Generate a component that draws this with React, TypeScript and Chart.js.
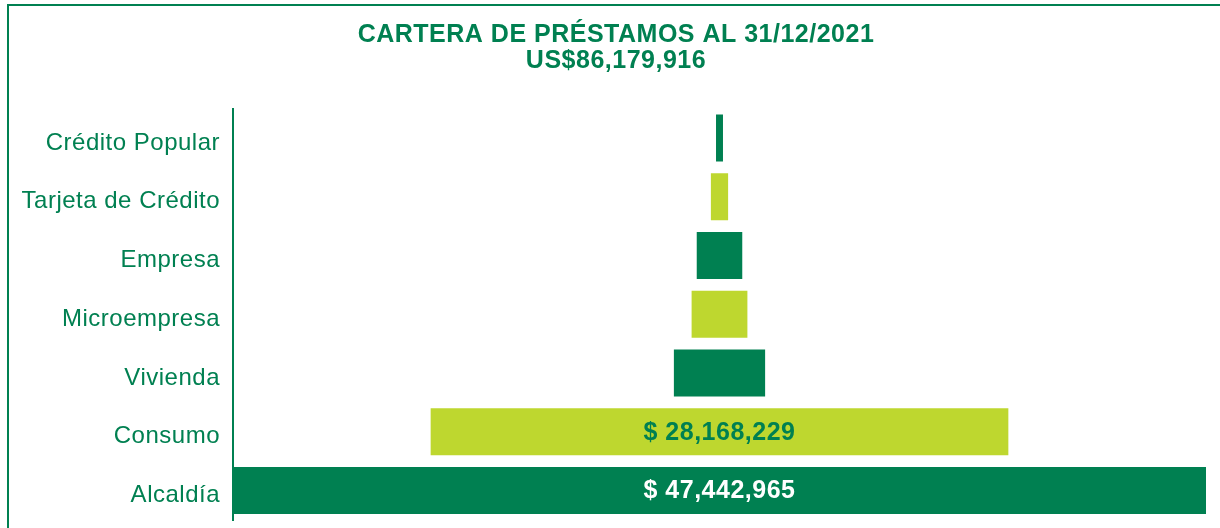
import React, { useEffect, useRef } from "react";
import { Chart, registerables } from "chart.js";

Chart.register(...registerables);

const categories = [
  "Crédito Popular",
  "Tarjeta de Crédito",
  "Empresa",
  "Microempresa",
  "Vivienda",
  "Consumo",
  "Alcaldía",
];
const values = [340000, 840000, 2220000, 2720000, 4448722, 28168229, 47442965];
const titleLines = ["CARTERA DE PRÉSTAMOS AL 31/12/2021", "US$86,179,916"];
const shownLabels = [false, false, false, false, false, true, true];

const DARK = "#008051";
const LIME = "#BED72F";
const FONT = "'Liberation Sans', Arial, Helvetica, sans-serif";

const barColors = categories.map((_, i) => (i % 2 === 0 ? DARK : LIME));
const labelColors = categories.map((_, i) => (i % 2 === 0 ? "#FFFFFF" : DARK));

const fmt = (v: number) => "$ " + v.toLocaleString("en-US");

const spacingPlugin = {
  id: "spacing",
  afterLayout(chart: any) {
    const tb = chart.titleBlock;
    if (tb) {
      tb.left = 26;
      tb.width = tb.right - tb.left;
    }
  },
  beforeDraw(chart: any) {
    (chart.ctx as any).letterSpacing = "0.5px";
  },
};

const valueLabelPlugin = {
  id: "valueLabels",
  afterDatasetsDraw(chart: any) {
    const ctx = chart.ctx;
    const meta = chart.getDatasetMeta(0);
    ctx.save();
    (ctx as any).letterSpacing = "0.5px";
    ctx.font = `bold 25px ${FONT}`;
    ctx.textAlign = "center";
    ctx.textBaseline = "middle";
    meta.data.forEach((el: any, i: number) => {
      if (!shownLabels[i]) return;
      const cx = (el.x + el.base) / 2;
      ctx.fillStyle = labelColors[i];
      ctx.fillText(fmt(values[i]), cx, el.y + 1);
    });
    ctx.restore();
  },
};

export default function App() {
  const ref = useRef<HTMLCanvasElement>(null);
  useEffect(() => {
    if (!ref.current) return;
    const maxV = Math.max(...values);
    const chart = new Chart(ref.current, {
      type: "bar",
      data: {
        labels: categories,
        datasets: [
          {
            data: values.map((v) => [-v / 2, v / 2]) as any,
            backgroundColor: barColors,
            borderWidth: 0,
            barPercentage: 0.8,
            categoryPercentage: 1,
          },
        ],
      },
      options: {
        indexAxis: "y",
        animation: false,
        responsive: true,
        maintainAspectRatio: false,
        layout: { padding: { left: 0, right: 14, top: 0, bottom: 8 } },
        plugins: {
          legend: { display: false },
          tooltip: { enabled: false },
          title: {
            display: true,
            text: titleLines,
            color: DARK,
            font: { family: FONT, size: 25, weight: "bold", lineHeight: 1.03 },
            padding: { top: 22, bottom: 35 },
          },
        },
        scales: {
          x: { display: false, min: -maxV / 2, max: maxV / 2 },
          y: {
            grid: { display: false, drawTicks: false },
            border: { display: true, color: DARK, width: 2 },
            ticks: {
              color: DARK,
              padding: 13,
              labelOffset: 5,
              font: { family: FONT, size: 24 },
            },
            afterFit: (s: any) => {
              s.width = 233;
              s.paddingTop = 0;
              s.paddingBottom = 0;
            },
          },
        },
      },
      plugins: [spacingPlugin, valueLabelPlugin],
    });
    return () => chart.destroy();
  }, []);
  return (
    <div style={{ position: "fixed", left: 0, top: 0, width: 1220, height: 528, background: "#fff" }}>
      <div
        style={{
          position: "absolute",
          left: 7,
          top: 4,
          width: 1400,
          height: 700,
          borderLeft: `2px solid ${DARK}`,
          borderTop: `2px solid ${DARK}`,
        }}
      />
      <div style={{ position: "absolute", left: 0, top: 0, width: 1220, height: 528 }}>
        <canvas ref={ref} />
      </div>
    </div>
  );
}
